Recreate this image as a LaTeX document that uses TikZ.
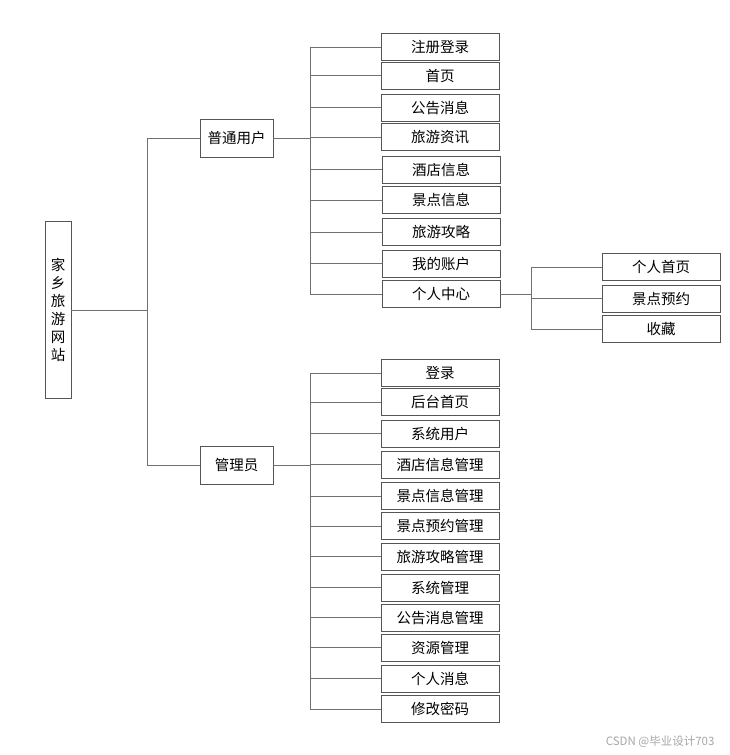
\documentclass[tikz,border=0pt]{standalone}
\usepackage{fontspec}
\newfontfamily\cjk{Noto Sans CJK SC}
\definecolor{boxline}{HTML}{555555}
\definecolor{linkline}{HTML}{707070}
\begin{document}
\begin{tikzpicture}[
    x=1pt, y=-1pt,
    box/.style={rectangle, draw=boxline, line width=0.9pt, fill=white, inner sep=0pt, align=center, font=\cjk\fontsize{14.5}{18}\selectfont},
    leaf/.style={box, minimum width=118pt, minimum height=27pt},
    role/.style={box, minimum width=73pt, minimum height=38pt},
    link/.style={draw=linkline, line width=0.9pt}
]
    \useasboundingbox (0,0) rectangle (730,755);

    % Root
    \node[box, minimum width=26pt, minimum height=177pt] (root) at (58,310) {家\\乡\\旅\\游\\网\\站};

    % Roles
    \node[role] (user) at (236.5,138) {普通用户};
    \node[role] (admin) at (236.5,465) {管理员};

    % User functions
    \node[leaf] (u1) at (440,47) {注册登录};
    \node[leaf] (u2) at (440,75.5) {首页};
    \node[leaf] (u3) at (440,107.5) {公告消息};
    \node[leaf] (u4) at (440,137) {旅游资讯};
    \node[leaf] (u5) at (441,169.5) {酒店信息};
    \node[leaf] (u6) at (441,200) {景点信息};
    \node[leaf] (u7) at (441,232) {旅游攻略};
    \node[leaf] (u8) at (441,263.5) {我的账户};
    \node[leaf] (u9) at (441,294) {个人中心};

    % Personal center
    \node[leaf] (c1) at (661,267) {个人首页};
    \node[leaf] (c2) at (661,298.5) {景点预约};
    \node[leaf] (c3) at (661,329) {收藏};

    % Admin functions
    \node[leaf] (a1) at (440,373) {登录};
    \node[leaf] (a2) at (440,402) {后台首页};
    \node[leaf] (a3) at (440,433.5) {系统用户};
    \node[leaf] (a4) at (440,464.5) {酒店信息管理};
    \node[leaf] (a5) at (440,496) {景点信息管理};
    \node[leaf] (a6) at (440,526) {景点预约管理};
    \node[leaf] (a7) at (440,556.5) {旅游攻略管理};
    \node[leaf] (a8) at (440,587.5) {系统管理};
    \node[leaf] (a9) at (440,617.5) {公告消息管理};
    \node[leaf] (a10) at (440,647.5) {资源管理};
    \node[leaf] (a11) at (440,678.5) {个人消息};
    \node[leaf] (a12) at (440,709) {修改密码};

    % Bus points
    \coordinate (rbus) at (147,310);
    \coordinate (ubus) at (310,138);
    \coordinate (abus) at (310,465);
    \coordinate (cbus) at (531,294);

    % Links
    \draw[link] (root.east) -- (rbus);
    \draw[link] (rbus) |- (user.west);
    \draw[link] (rbus) |- (admin.west);
    \draw[link] (user.east) -- (ubus);
    \foreach \n in {u1,u2,u3,u4,u5,u6,u7,u8,u9}
        \draw[link] (ubus) |- (\n.west);
    \draw[link] (admin.east) -- (abus);
    \foreach \n in {a1,a2,a3,a4,a5,a6,a7,a8,a9,a10,a11,a12}
        \draw[link] (abus) |- (\n.west);
    \draw[link] (u9.east) -- (cbus);
    \foreach \n in {c1,c2,c3}
        \draw[link] (cbus) |- (\n.west);

    % Watermark
    \node[font=\cjk\fontsize{11.5}{13}\selectfont, text=black!35, anchor=east] (mark) at (718,742) {CSDN @毕业设计703};
\end{tikzpicture}
\end{document}
